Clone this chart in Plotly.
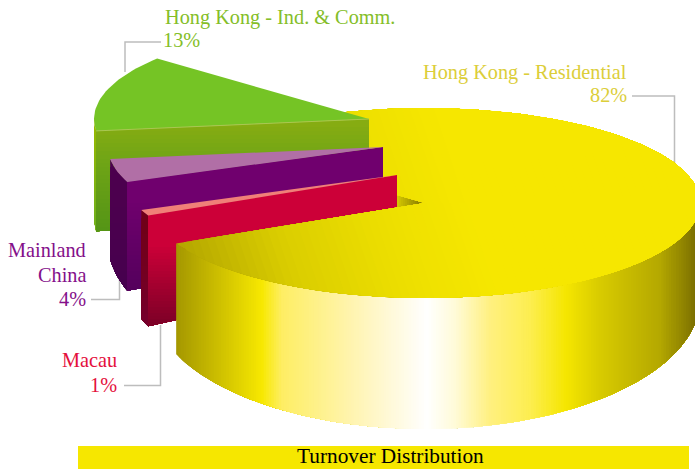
import math
import plotly.graph_objects as go

# Turnover share per business segment, in drawing order around the pie
segments = ["Hong Kong - Ind. & Comm.", "Mainland China", "Macau", "Hong Kong - Residential"]
shares = [13, 4, 1, 82]

label_lines = [["Hong Kong - Ind. & Comm.", "13%"], ["Mainland", "China", "4%"], ["Macau", "1%"],
               ["Hong Kong - Residential", "82%"]]
chart_title = "Turnover Distribution"

# Projection of the pie on the page (pixel-like axes)
WIDTH, HEIGHT = 695, 470
RX, RY = 275, 95
DROP, BULGE = 96, 35
START_ANGLE = -39.6
CENTRES = {"green": (369, 119), "purple": (383, 147), "red": (397, 175), "yellow": (425, 203)}

fig = go.Figure()


def top_pt(c, phi):
    r = math.radians(phi)
    return (c[0] - RX * math.cos(r), c[1] + RY * math.sin(r))


def bottom_pt(c, phi):
    r = math.radians(phi)
    return (c[0] - RX * math.cos(r), c[1] + DROP + (RY + BULGE) * math.sin(r))


def angles(a, b, step=1.5):
    n = max(1, int(abs(b - a) / step))
    return [a + (b - a) * i / n for i in range(n + 1)]


def sector(c, a, b):
    return [c] + [top_pt(c, p) for p in angles(a, b)]


def outer_wall(c, a, b):
    ph = angles(a, b)
    return [top_pt(c, p) for p in ph] + [bottom_pt(c, p) for p in reversed(ph)]


def cut_wall(c, phi):
    return [c, top_pt(c, phi), bottom_pt(c, phi), (c[0], c[1] + DROP)]


def fill(poly, colour):
    if len(poly) < 3:
        return
    xs = [p[0] for p in poly] + [poly[0][0]]
    ys = [p[1] for p in poly] + [poly[0][1]]
    fig.add_trace(go.Scatter(x=xs, y=ys, mode="lines", fill="toself", fillcolor=colour,
                             line=dict(width=0, color=colour), hoverinfo="skip", showlegend=False))


def polyline(pts, colour, width):
    fig.add_trace(go.Scatter(x=[p[0] for p in pts], y=[p[1] for p in pts], mode="lines",
                             line=dict(color=colour, width=width), hoverinfo="skip", showlegend=False))


def clip(poly, kx, ky, level):
    # Keep the part of the polygon where kx*x + ky*y >= level
    out = []
    for i, p in enumerate(poly):
        q = poly[(i + 1) % len(poly)]
        fp = kx * p[0] + ky * p[1] - level
        fq = kx * q[0] + ky * q[1] - level
        if fp >= 0:
            out.append(p)
        if (fp >= 0) != (fq >= 0):
            t = fp / (fp - fq)
            out.append((p[0] + (q[0] - p[0]) * t, p[1] + (q[1] - p[1]) * t))
    return out


def ramp(stops, v):
    if v <= stops[0][0]:
        return stops[0][1]
    for (a, ca), (b, cb) in zip(stops, stops[1:]):
        if v <= b:
            t = (v - a) / (b - a)
            return tuple(ca[i] + (cb[i] - ca[i]) * t for i in range(3))
    return stops[-1][1]


def css(c):
    return "rgb(%d,%d,%d)" % tuple(round(x) for x in c)


def shaded(poly, kx, ky, stops, step):
    # Later bands overlap earlier ones, so no seams show between them
    vals = [kx * p[0] + ky * p[1] for p in poly]
    lo, hi = min(vals), max(vals)
    v = lo
    first = True
    while v < hi:
        fill(poly if first else clip(poly, kx, ky, v), css(ramp(stops, v + step / 2)))
        first = False
        v += step


# Slice boundaries derived from the shares
edges = [START_ANGLE]
for s in shares:
    edges.append(edges[-1] + s * 3.6)
green_a, green_b = edges[0], edges[1]
purple_a, purple_b = edges[1], edges[2]
red_a, red_b = edges[2], edges[3]
main_a, main_b = edges[3], edges[4]

# Leader lines
polyline([(125, 72), (125, 42), (161, 42)], "#BDBDBD", 1.5)
polyline([(632, 96), (674.5, 96), (674.5, 165)], "#BDBDBD", 1.5)
polyline([(91, 299.5), (119.5, 299.5), (119.5, 275)], "#BDBDBD", 1.5)
polyline([(124, 385.5), (160.5, 385.5), (160.5, 325)], "#BDBDBD", 1.5)

# Shading ramps
top_ramp = [(100, (181, 168, 0)), (200, (218, 205, 0)), (310, (237, 223, 0)), (400, (246, 231, 0))]
side_ramp = [(177, (165, 152, 0)), (262, (247, 232, 0)), (282, (254, 238, 100)), (370, (255, 246, 195)),
             (427, (255, 255, 255)), (455, (255, 251, 216)), (490, (255, 240, 128)), (530, (253, 238, 80)),
             (566, (245, 230, 0)), (600, (216, 203, 0)), (660, (180, 168, 0)), (695, (125, 113, 0))]
TOP_K = (1, -0.335)

c = CENTRES["yellow"]
# Far part of the large slice, with its cut face
shaded(cut_wall(c, main_b), 1, 0, [(397, (214, 200, 0)), (424, (130, 118, 0))], 2)
shaded(sector(c, 180, main_b), TOP_K[0], TOP_K[1], top_ramp, 8)

# Green slice
c = CENTRES["green"]
fill(sector(c, green_a, green_b), "#75C425")
shaded(outer_wall(c, 0, green_b), 0, 1, [(125, (150, 185, 0)), (232, (110, 175, 30))], 8)
shaded(cut_wall(c, green_b), 0, 1, [(125, (134, 172, 18)), (160, (112, 165, 22)), (232, (84, 148, 22))], 4)
polyline([top_pt(c, green_b), c], "#A9C752", 1)

# Purple slice
c = CENTRES["purple"]
shaded(outer_wall(c, purple_a, purple_b), 0, 1, [(200, (76, 0, 78)), (290, (70, 0, 78))], 8)
shaded(cut_wall(c, purple_b), 0, 1, [(200, (112, 0, 110)), (290, (84, 0, 92))], 4)
fill(sector(c, purple_a, purple_b), "#B16FA6")

# Red slice
c = CENTRES["red"]
shaded(outer_wall(c, red_a, red_b), 0, 1, [(230, (112, 0, 24)), (325, (118, 0, 44))], 8)
shaded(cut_wall(c, red_b), 0, 1, [(245, (204, 0, 56)), (327, (122, 0, 38))], 3)
fill(sector(c, red_a, red_b), "#F08078")

# Near part of the large slice, overlapping the lower walls of the others
c = CENTRES["yellow"]
shaded(outer_wall(c, main_a, 180), 1, 0, side_ramp, 2.5)
shaded(sector(c, main_a, 180), TOP_K[0], TOP_K[1], top_ramp, 8)

# Title band
fill([(78, 446), (689, 446), (689, 469), (78, 469)], "#F6E700")

LABEL_FONT = "Liberation Serif"
annotations = []


def text(x, y, s, colour, anchor, size=20.3):
    annotations.append(dict(x=x, y=y, xref="x", yref="y", text=s, showarrow=False, xanchor=anchor,
                            yanchor="middle", font=dict(family=LABEL_FONT, size=size, color=colour)))


for line, y, x, anc in zip(label_lines[0], [17, 40], [163, 161], ["left", "left"]):
    text(x, y, line, "#84BE28", anc)
for line, y in zip(label_lines[1], [250, 275, 299]):
    text(88, y, line, "#84108A", "right")
for line, y in zip(label_lines[2], [360, 385]):
    text(119, y, line, "#E4103C", "right")
for line, y in zip(label_lines[3], [72, 95]):
    text(629, y, line, "#DCCE3A", "right")
text(390.5, 456, chart_title, "#000000", "center", 21.3)

fig.update_layout(
    width=WIDTH, height=HEIGHT, autosize=False,
    margin=dict(l=0, r=0, t=0, b=0),
    paper_bgcolor="white", plot_bgcolor="white",
    showlegend=False, annotations=annotations,
    xaxis=dict(range=[0, WIDTH], visible=False, fixedrange=True),
    yaxis=dict(range=[HEIGHT, 0], visible=False, fixedrange=True),
)
fig.write_html("out.html", config=dict(displayModeBar=False))
